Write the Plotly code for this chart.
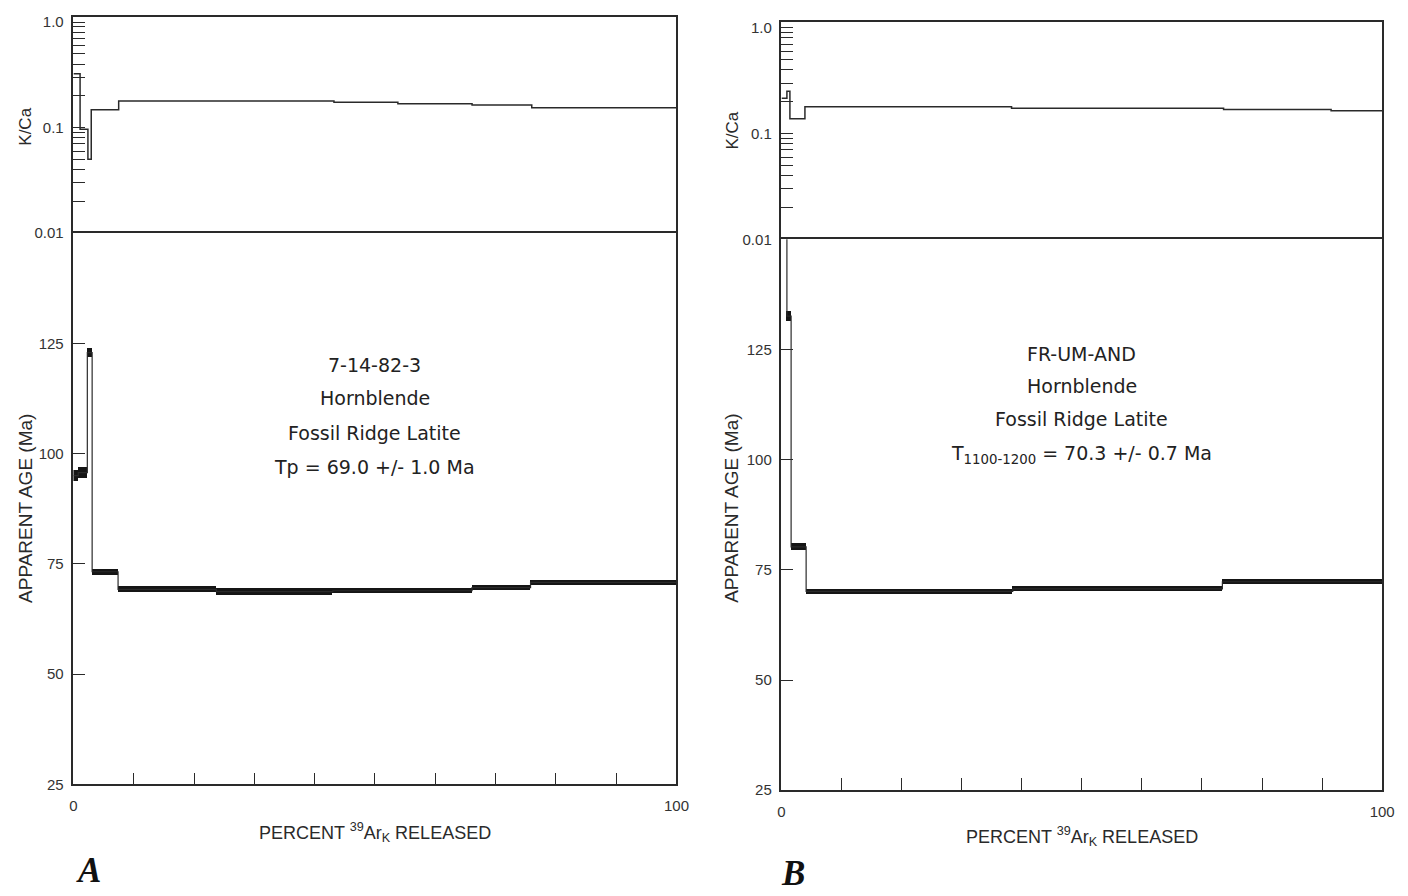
import plotly.graph_objects as go

# ---------------- data ----------------
# Panel A : 7-14-82-3 hornblende
ageA_edges = [0, 0.8, 2.3, 3.1, 7.4, 23.7, 43.0, 66.1, 75.8, 100]
ageA_vals = [95.0, 95.7, 122.9, 73.2, 69.2, 68.7, 68.9, 69.6, 70.8]
ageA_errs = [1.2, 1.2, 1.1, 0.7, 0.7, 0.75, 0.65, 0.6, 0.6]
kcaA_edges = [0, 1.1, 2.4, 2.95, 7.5, 43.2, 53.8, 66.1, 76.0, 100]
kcaA_vals = [0.323, 0.0966, 0.050, 0.148, 0.179, 0.174, 0.168, 0.164, 0.154]

# Panel B : FR-UM-AND hornblende (first step age is off scale, > 150 Ma)
ageB_edges = [0, 0.9, 1.6, 4.1, 38.5, 73.4, 100]
ageB_vals = [175.0, 132.6, 80.2, 70.1, 70.7, 72.3]
ageB_errs = [None, 1.1, 0.75, 0.55, 0.55, 0.6]
kcaB_edges = [0, 0.9, 1.4, 3.9, 38.3, 73.6, 91.5, 100]
kcaB_vals = [0.215, 0.251, 0.138, 0.179, 0.173, 0.169, 0.164]

x_tickvals = [0, 100]
x_ticktext = ["0", "100"]
x_minor = [10, 20, 30, 40, 50, 60, 70, 80, 90]
age_tickvals = [25, 50, 75, 100, 125]
age_ticktext = ["25", "50", "75", "100", "125"]
kca_tickvals = [0.01, 0.1, 1.0]
kca_ticktext = ["0.01", "0.1", "1.0"]
kca_minor = [0.02, 0.03, 0.04, 0.05, 0.06, 0.07, 0.08, 0.09,
             0.2, 0.3, 0.4, 0.5, 0.6, 0.7, 0.8, 0.9]

labelA = ["7-14-82-3", "Hornblende", "Fossil Ridge Latite", "Tp = 69.0 +/- 1.0 Ma"]
labelB = ["FR-UM-AND", "Hornblende", "Fossil Ridge Latite",
          "T<sub>1100-1200</sub> = 70.3 +/- 0.7 Ma"]
xtitle = "PERCENT <sup>39</sup>Ar<sub>K</sub> RELEASED"

# ---------------- styling ----------------
LC = "#2a2a2a"
BOX = "#151515"
SANS = "Liberation Sans, Arial, sans-serif"
TICKFONT = dict(family=SANS, size=15, color="#333333")
ANNFONT = dict(family="DejaVu Sans, sans-serif", size=19, color="#222222")

H = 896.0
W = 1408.0
def py(px):
    return (H - px) / H
def pxx(px):
    return px / W

panels = {
    "A": dict(xdom=[pxx(70.3), pxx(680.7)], age_dom=[py(791), py(233)], kca_dom=[py(233), py(14)],
              kca_top=0.0496),
    "B": dict(xdom=[pxx(787), pxx(1395)], age_dom=[py(797), py(239.3)], kca_dom=[py(239.3), py(19)],
              kca_top=0.056),
}

fig = go.Figure()


def add_panel(age_edges, age_vals, age_errs, kca_edges, kca_vals, xa, ya, xk, yk):
    # thick boxes (age +/- error)
    mids, widths, bases, heights = [], [], [], []
    for i, (v, e) in enumerate(zip(age_vals, age_errs)):
        if e is None:
            continue
        mids.append((age_edges[i] + age_edges[i + 1]) / 2)
        widths.append(age_edges[i + 1] - age_edges[i])
        bases.append(v - e)
        heights.append(2 * e)
    fig.add_trace(go.Bar(x=mids, y=heights, base=bases, width=widths,
                         marker=dict(color=BOX, line=dict(width=0)),
                         xaxis=xa, yaxis=ya, showlegend=False, hoverinfo="skip"))
    # thin connecting step line
    fig.add_trace(go.Scatter(x=age_edges, y=age_vals + [age_vals[-1]], mode="lines",
                             line=dict(color=LC, width=1.2, shape="hv"),
                             xaxis=xa, yaxis=ya, showlegend=False, hoverinfo="skip"))
    # K/Ca step line
    fig.add_trace(go.Scatter(x=kca_edges, y=kca_vals + [kca_vals[-1]], mode="lines",
                             line=dict(color=LC, width=1.5, shape="hv"),
                             xaxis=xk, yaxis=yk, showlegend=False, hoverinfo="skip"))


add_panel(ageA_edges, ageA_vals, ageA_errs, kcaA_edges, kcaA_vals, "x", "y", "x2", "y2")
add_panel(ageB_edges, ageB_vals, ageB_errs, kcaB_edges, kcaB_vals, "x3", "y3", "x4", "y4")

common = dict(showgrid=False, zeroline=False, showline=True, linecolor=LC, linewidth=1.5,
              tickfont=TICKFONT, ticks="inside", ticklen=12,
              tickcolor=LC, tickwidth=1.3)
minor_common = dict(ticks="inside", ticklen=12, tickcolor=LC, tickwidth=1.3, showgrid=False)

layout_axes = {}
for key, (xa, ya, xk, yk) in zip(["A", "B"], [("xaxis", "yaxis", "xaxis2", "yaxis2"),
                                               ("xaxis3", "yaxis3", "xaxis4", "yaxis4")]):
    p = panels[key]
    ya_id = ya.replace("axis", "")
    xa_id = xa.replace("axis", "")
    yk_id = yk.replace("axis", "")
    xk_id = xk.replace("axis", "")
    layout_axes[xa] = dict(common, domain=p["xdom"], anchor=ya_id, range=[0, 100], mirror=True,
                           tickvals=x_tickvals, ticktext=x_ticktext, ticklabelstandoff=7,
                           minor=dict(minor_common, tickvals=x_minor))
    layout_axes[ya] = dict(common, domain=p["age_dom"], anchor=xa_id, range=[25, 150],
                           mirror=True, tickvals=age_tickvals, ticktext=age_ticktext,
                           ticklabelstandoff=5)
    layout_axes[xk] = dict(common, domain=p["xdom"], anchor=yk_id, range=[0, 100],
                           side="top", mirror=False, ticks="", showticklabels=False)
    layout_axes[yk] = dict(common, domain=p["kca_dom"], anchor=xk_id, type="log", mirror=True,
                           range=[-2, p["kca_top"]], tickvals=kca_tickvals,
                           ticktext=kca_ticktext, ticklabelstandoff=5,
                           minor=dict(minor_common, tickvals=kca_minor))

annotations = []
# sample descriptions centred on each age panel
for lines, xref, ys in [(labelA, "x", [366, 400, 435, 470]),
                        (labelB, "x3", [355, 388, 421, 457])]:
    for t, yp in zip(lines, ys):
        annotations.append(dict(text=t, x=50, y=py(yp), xref=xref, yref="paper",
                                showarrow=False, font=ANNFONT, xanchor="center", yanchor="middle"))

# axis titles
for xc, ycap in [(376, 840), (1091, 844)]:
    annotations.append(dict(text=xtitle, x=pxx(xc), y=py(ycap), xref="paper", yref="paper",
                            showarrow=False, font=dict(family=SANS, size=18, color="#2a2a2a"),
                            xanchor="center", yanchor="middle"))
for xc, yk, ya in [(21.5, 125, 512), (737, 129, 512)]:
    annotations.append(dict(text="K/Ca", x=pxx(xc), y=py(yk), xref="paper", yref="paper",
                            showarrow=False, font=dict(family=SANS, size=17, color="#2a2a2a"),
                            textangle=-90, xanchor="center", yanchor="middle"))
    annotations.append(dict(text="APPARENT AGE (Ma)", x=pxx(xc), y=py(ya), xref="paper",
                            yref="paper", showarrow=False,
                            font=dict(family=SANS, size=19, color="#2a2a2a"), textangle=-90,
                            xanchor="center", yanchor="middle"))

# panel letters
for letter, xc, yc in [("A", 86, 878), ("B", 799, 881)]:
    annotations.append(dict(text="<b><i>%s</i></b>" % letter, x=pxx(xc), y=py(yc),
                            xref="paper", yref="paper", showarrow=False,
                            font=dict(family="Liberation Serif, DejaVu Serif, serif", size=35,
                                      color="#111111"),
                            xanchor="center", yanchor="middle"))

fig.update_layout(width=1408, height=896, margin=dict(l=0, r=0, t=0, b=0),
                  paper_bgcolor="white", plot_bgcolor="white", barmode="overlay",
                  bargap=0, showlegend=False, annotations=annotations, **layout_axes)

fig.write_html("out.html")
